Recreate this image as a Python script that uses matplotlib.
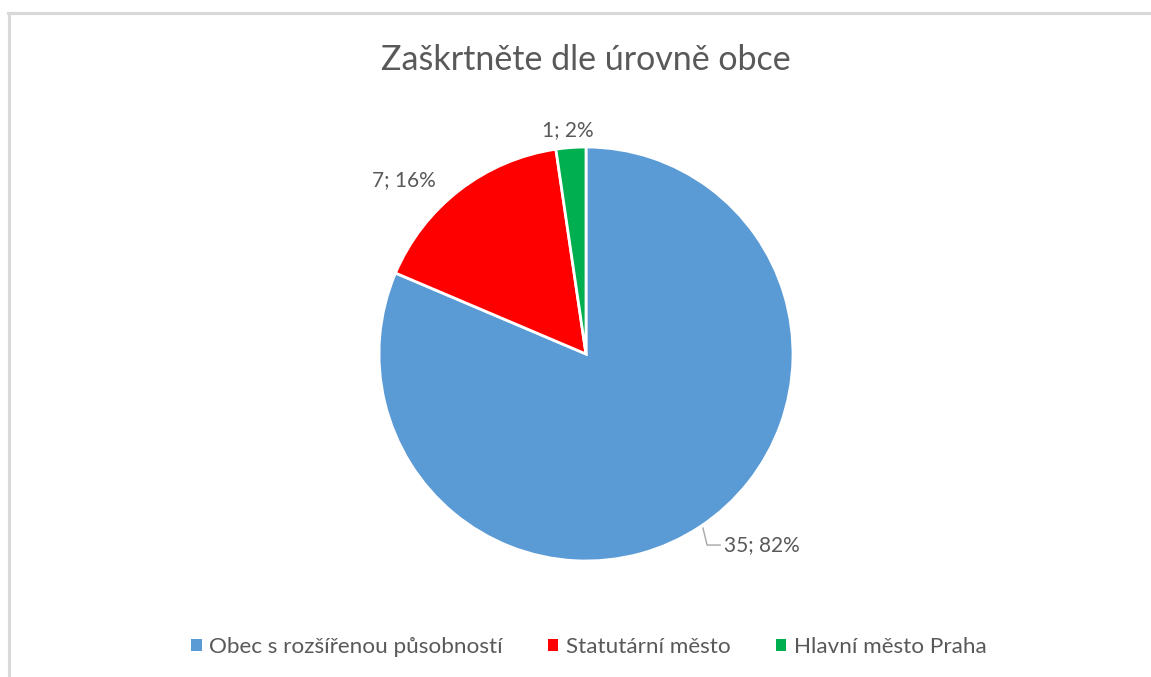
import matplotlib
matplotlib.use('Agg')
import matplotlib.pyplot as plt
from matplotlib.lines import Line2D
from matplotlib.patches import Patch

plt.rcParams['font.family'] = ['Lato', 'DejaVu Sans']

title = 'Zaškrtněte dle úrovně obce'
categories = ['Obec s rozšířenou působností', 'Statutární město', 'Hlavní město Praha']
counts = [35, 7, 1]
percents = [82, 16, 2]   # jak je uvadi original
colors = ['#5B9BD5', '#FF0000', '#00B050']
txt = '#595959'

fig = plt.figure(figsize=(11.51, 6.77), dpi=100)
fig.patch.set_facecolor('white')

# ramecek grafu (oriznuty screenshot -> jen horni a leva hrana)
fig.add_artist(Line2D([8/1151, 1], [1 - 13/677, 1 - 13/677], color='#D9D9D9', lw=2.2))
fig.add_artist(Line2D([9/1151, 9/1151], [0, 1 - 13/677], color='#D9D9D9', lw=2.2))

ax = fig.add_axes([(586 - 207) / 1151, (677 - 561) / 677, 414 / 1151, 414 / 677])
wedges, _ = ax.pie(counts, colors=colors, startangle=90, counterclock=False,
                   radius=1, wedgeprops=dict(edgecolor='white', linewidth=2))
ax.set_xlim(-1, 1)
ax.set_ylim(-1, 1)
ax.set_aspect('equal')
ax.axis('off')

labels = ['%d; %d%%' % (c, p) for c, p in zip(counts, percents)]
label_pos = [(0.85, -0.923), (-0.879, 0.841), (-0.087, 1.082)]
for lab, (x, y) in zip(labels, label_pos):
    ax.text(x, y, lab, ha='center', va='center', fontsize=15, color=txt, clip_on=False)

# odkazova cara k popisku 35; 82%
ax.plot([0.565, 0.585, 0.648], [-0.841, -0.923, -0.923], color='#A6A6A6', lw=1, clip_on=False)

fig.text(586 / 1151, 1 - 60 / 677, title, ha='center', va='center', fontsize=24.5, color=txt)

handles = [Patch(facecolor=c, edgecolor='none') for c in colors]
fig.legend(handles, categories, loc='center', bbox_to_anchor=(589 / 1151, 1 - 647 / 677),
           ncol=3, frameon=False, fontsize=16.2, labelcolor=txt, handlelength=0.45,
           handleheight=0.45, handletextpad=0.35, columnspacing=2.0)

fig.savefig('out.png', dpi=100, facecolor='white')
